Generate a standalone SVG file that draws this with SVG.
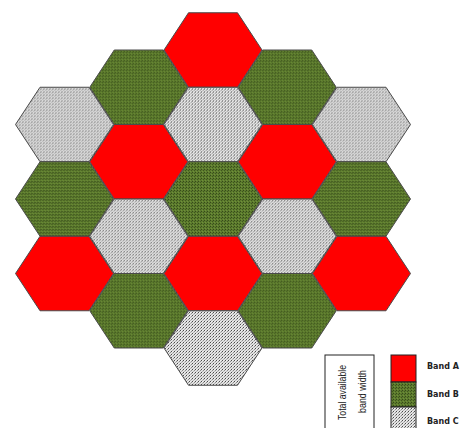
<svg xmlns="http://www.w3.org/2000/svg" xmlns:xlink="http://www.w3.org/1999/xlink" width="465" height="428" viewBox="0 0 465 428">
<style>
.hex{stroke:#4a4a4a;stroke-width:1}
.a{fill:#ff0000}
.b{fill:url(#pg)}
.c{fill:url(#pc)}
.lab{font-family:"DejaVu Sans",Verdana,sans-serif;font-weight:bold;font-size:8px;fill:#222}
.rot{font-family:"Liberation Sans",Arial,sans-serif;font-size:10px;fill:#222}
</style>
<defs>
<pattern id="pg" width="3" height="3" patternUnits="userSpaceOnUse">
<rect width="3" height="3" fill="#5c7b2d"/>
<rect x="0" y="0" width="1" height="1" fill="#36491a"/>
<rect x="2" y="1" width="1" height="1" fill="#3f561e"/>
<rect x="1" y="2" width="1" height="1" fill="#6f8f3a"/>
</pattern>
<pattern id="pc" width="3" height="3" patternUnits="userSpaceOnUse">
<rect width="3" height="3" fill="#e2e2e2"/>
<rect x="0" y="0" width="1" height="1" fill="#4a4a4a"/>
<rect x="2" y="1" width="1" height="1" fill="#8a8a8a"/>
<rect x="1" y="2" width="1" height="1" fill="#b0b0b0"/>
<rect x="1" y="0" width="1" height="1" fill="#f2f2f2"/>
</pattern>
<path id="hx" d="M-49,0 L-24.5,-37.25 L24.5,-37.25 L49,0 L24.5,37.25 L-24.5,37.25 Z"/>
</defs>
<rect width="465" height="428" fill="#fff"/>
<g id="hexes">
<g id="c0r0"><use xlink:href="#hx" href="#hx" class="hex c" transform="translate(64.5,124.5)"/></g>
<g id="c0r1"><use xlink:href="#hx" href="#hx" class="hex b" transform="translate(64.5,199)"/></g>
<g id="c0r2"><use xlink:href="#hx" href="#hx" class="hex a" transform="translate(64.5,273.5)"/></g>
<g id="c1r0"><use xlink:href="#hx" href="#hx" class="hex b" transform="translate(138.75,87.25)"/></g>
<g id="c1r1"><use xlink:href="#hx" href="#hx" class="hex a" transform="translate(138.75,161.75)"/></g>
<g id="c1r2"><use xlink:href="#hx" href="#hx" class="hex c" transform="translate(138.75,236.25)"/></g>
<g id="c1r3"><use xlink:href="#hx" href="#hx" class="hex b" transform="translate(138.75,310.75)"/></g>
<g id="c2r0"><use xlink:href="#hx" href="#hx" class="hex a" transform="translate(213,50)"/></g>
<g id="c2r1"><use xlink:href="#hx" href="#hx" class="hex c" transform="translate(213,124.5)"/></g>
<g id="c2r2"><use xlink:href="#hx" href="#hx" class="hex b" transform="translate(213,199)"/></g>
<g id="c2r3"><use xlink:href="#hx" href="#hx" class="hex a" transform="translate(213,273.5)"/></g>
<g id="c2r4"><use xlink:href="#hx" href="#hx" class="hex c" transform="translate(213,348)"/></g>
<g id="c3r0"><use xlink:href="#hx" href="#hx" class="hex b" transform="translate(287.25,87.25)"/></g>
<g id="c3r1"><use xlink:href="#hx" href="#hx" class="hex a" transform="translate(287.25,161.75)"/></g>
<g id="c3r2"><use xlink:href="#hx" href="#hx" class="hex c" transform="translate(287.25,236.25)"/></g>
<g id="c3r3"><use xlink:href="#hx" href="#hx" class="hex b" transform="translate(287.25,310.75)"/></g>
<g id="c4r0"><use xlink:href="#hx" href="#hx" class="hex c" transform="translate(361.5,124.5)"/></g>
<g id="c4r1"><use xlink:href="#hx" href="#hx" class="hex b" transform="translate(361.5,199)"/></g>
<g id="c4r2"><use xlink:href="#hx" href="#hx" class="hex a" transform="translate(361.5,273.5)"/></g>
</g>
<g id="connectors"/>
<g id="legend">
<g id="legend-box">
<rect x="325" y="355" width="49" height="80" fill="#fff" stroke="#222" stroke-width="1"/>
<text class="rot" transform="translate(345.5,420) rotate(-90)" textLength="55" lengthAdjust="spacingAndGlyphs">Total available</text>
<text class="rot" transform="translate(365.5,413) rotate(-90)" textLength="43" lengthAdjust="spacingAndGlyphs">band width</text>
</g>
<g id="legend-a">
<rect x="391" y="355" width="25" height="27" class="a" stroke="#222" stroke-width="1"/>
<text class="lab" x="427" y="369">Band A</text>
</g>
<g id="legend-b">
<rect x="391" y="382" width="25" height="25" class="b" stroke="#222" stroke-width="1"/>
<text class="lab" x="427" y="397">Band B</text>
</g>
<g id="legend-c">
<rect x="391" y="407" width="25" height="25" class="c" stroke="#222" stroke-width="1"/>
<text class="lab" x="427" y="424">Band C</text>
</g>
</g>
</svg>
